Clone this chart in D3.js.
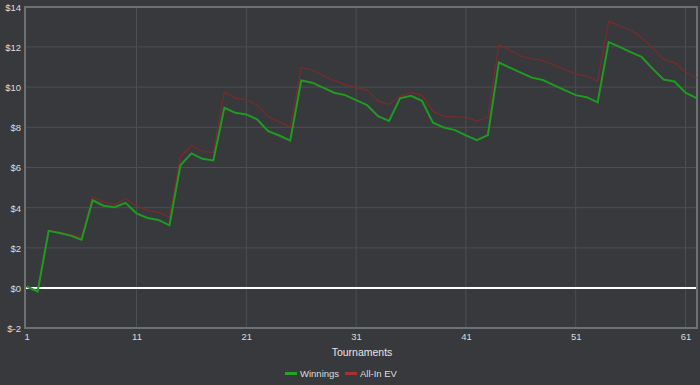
<!DOCTYPE html>
<html>
<head>
<meta charset="utf-8">
<script src="https://cdn.jsdelivr.net/npm/d3@7"></script>
<style>
  html, body { margin: 0; padding: 0; background: #37393c; }
  svg { display: block; font-family: "Liberation Sans", Arial, sans-serif; }
</style>
</head>
<body>
<div id="chart"></div>
<script>
// tournaments 1..62
var tournaments = d3.range(1, 63);
var winnings = [
  0.08, -0.17, 2.85, 2.74, 2.61, 2.41, 4.37, 4.10, 4.02, 4.24,
  3.72, 3.49, 3.39, 3.12, 6.11, 6.70, 6.43, 6.35, 8.97, 8.72,
  8.64, 8.39, 7.81, 7.59, 7.34, 10.33, 10.22, 9.97, 9.72, 9.60,
  9.35, 9.10, 8.55, 8.32, 9.44, 9.57, 9.32, 8.23, 7.99, 7.86,
  7.60, 7.36, 7.61, 11.22, 10.97, 10.72, 10.47, 10.35, 10.10, 9.85,
  9.60, 9.50, 9.24, 12.24, 12.00, 11.74, 11.50, 10.92, 10.38, 10.28,
  9.72, 9.45
];
var allInEV = [
  0.08, -0.17, 2.85, 2.80, 2.66, 2.54, 4.54, 4.29, 4.15, 4.44,
  4.10, 3.87, 3.77, 3.52, 6.53, 7.09, 6.81, 6.73, 9.77, 9.44,
  9.39, 9.09, 8.52, 8.27, 8.01, 10.98, 10.85, 10.58, 10.32, 10.12,
  9.97, 9.85, 9.30, 9.14, 9.54, 9.74, 9.59, 8.79, 8.55, 8.52,
  8.49, 8.32, 8.50, 12.11, 11.83, 11.55, 11.41, 11.33, 11.10, 10.88,
  10.65, 10.55, 10.30, 13.28, 13.04, 12.84, 12.46, 11.96, 11.38, 11.22,
  10.75, 10.45
];
var xTicks = [1, 11, 21, 31, 41, 51, 61];
var yTicks = [-2, 0, 2, 4, 6, 8, 10, 12, 14];
var seriesNames = ["Winnings", "All-In EV"];

var W = 700, H = 385;
var frame = {left: 25, right: 697, top: 7, bottom: 328};

var svg = d3.select("#chart").append("svg")
    .attr("width", W)
    .attr("height", H);

svg.append("rect").attr("width", W).attr("height", H).attr("fill", "#37393c");

var x = d3.scaleLinear().domain([1, 62]).range([26.7, 696.5]);
var y = d3.scaleLinear().domain([-2, 14]).range([328.3, 6.7]);

// grid
svg.append("g")
    .selectAll("line.h")
    .data(yTicks.filter(function(d){ return d > -2 && d < 14; }))
    .enter().append("line")
    .attr("x1", frame.left).attr("x2", frame.right)
    .attr("y1", function(d){ return y(d); }).attr("y2", function(d){ return y(d); })
    .attr("stroke", "#4c4f53").attr("stroke-width", 1);

svg.append("g")
    .selectAll("line.v")
    .data(xTicks.slice(1))
    .enter().append("line")
    .attr("x1", function(d){ return x(d); }).attr("x2", function(d){ return x(d); })
    .attr("y1", frame.top).attr("y2", frame.bottom)
    .attr("stroke", "#4c4f53").attr("stroke-width", 1);

// zero line
svg.append("line")
    .attr("x1", frame.left).attr("x2", frame.right)
    .attr("y1", y(0)).attr("y2", y(0))
    .attr("stroke", "#ffffff").attr("stroke-width", 2);

// frame
svg.append("rect")
    .attr("x", frame.left).attr("y", frame.top)
    .attr("width", frame.right - frame.left).attr("height", frame.bottom - frame.top)
    .attr("fill", "none").attr("stroke", "#6e7174").attr("stroke-width", 2);

// axes labels
var yAxis = d3.axisLeft(y).tickValues(yTicks).tickSize(0).tickPadding(0)
    .tickFormat(function(d){ return "$" + d; });
var gy = svg.append("g").attr("transform", "translate(21,0)").call(yAxis);
gy.select(".domain").remove();
gy.selectAll("text").attr("fill", "#dcdcdc").style("font-size", "9.5px").attr("dy", "0.35em");

var xAxis = d3.axisBottom(x).tickValues(xTicks).tickSize(0).tickPadding(0)
    .tickFormat(d3.format("d"));
var gx = svg.append("g").attr("transform", "translate(0,333)").call(xAxis);
gx.select(".domain").remove();
gx.selectAll("text").attr("fill", "#dcdcdc").style("font-size", "9.5px");

svg.append("text")
    .attr("x", 362).attr("y", 356)
    .attr("text-anchor", "middle")
    .attr("fill", "#e6e6e6")
    .style("font-size", "10.5px")
    .text("Tournaments");

// lines
var line = d3.line()
    .x(function(d, i){ return x(tournaments[i]); })
    .y(function(d){ return y(d); });

svg.append("path").datum(allInEV)
    .attr("d", line).attr("fill", "none")
    .attr("stroke", "#7c2a2c").attr("stroke-width", 1.2);

svg.append("path").datum(winnings)
    .attr("d", line).attr("fill", "none")
    .attr("stroke", "#1f9b22").attr("stroke-width", 2);

// legend
var legendColors = ["#26a326", "#a83232"];
var legendX = [285, 345];
var lg = svg.append("g").selectAll("g").data(seriesNames).enter().append("g")
    .attr("transform", function(d, i){ return "translate(" + legendX[i] + ",373.5)"; });
lg.append("rect").attr("x", 0).attr("y", -1.5).attr("width", 12).attr("height", 3)
    .attr("fill", function(d, i){ return legendColors[i]; });
lg.append("text").attr("x", 15).attr("y", 0).attr("dy", "0.35em")
    .attr("fill", "#dcdcdc").style("font-size", "9.5px")
    .text(function(d){ return d; });
</script>
</body>
</html>
